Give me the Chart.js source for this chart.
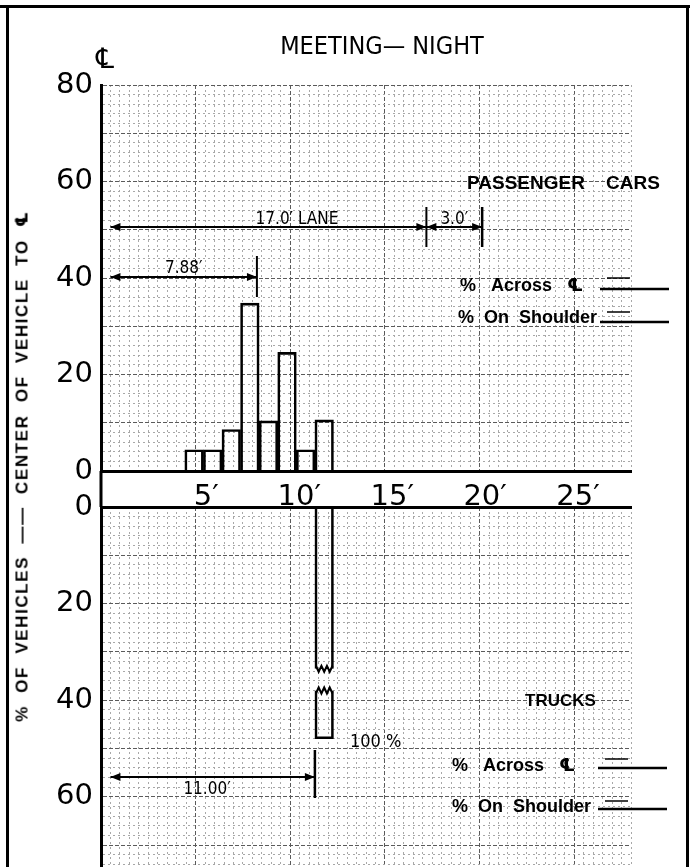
<!DOCTYPE html>
<html>
<head>
<meta charset="utf-8">
<script src="https://cdn.jsdelivr.net/npm/chart.js@4.4.1/dist/chart.umd.min.js"></script>
<style>
body { margin: 0; width: 690px; height: 867px; overflow: hidden; background: #fff; position: relative; }
.rule { position: absolute; background: #000; }
canvas { position: absolute; left: 0; }
#yTitle {
    position: absolute; left: 22px; top: 466px;
    transform: translate(-50%, -50%) rotate(-90deg);
    white-space: nowrap;
    font: bold 17px 'Liberation Sans', 'DejaVu Sans', sans-serif;
    letter-spacing: 1.6px; word-spacing: 6px;
}
</style>
</head>
<body>
<div class="rule" style="left:0;top:5px;width:690px;height:3px"></div>
<div class="rule" style="left:6px;top:5px;width:3px;height:862px"></div>
<div class="rule" style="left:686px;top:5px;width:3px;height:862px"></div>
<canvas id="trucksChart" width="690" height="384" style="top:490px"></canvas>
<canvas id="carsChart" width="690" height="515" style="top:0"></canvas>
<div id="yTitle">% OF VEHICLES —— CENTER OF VEHICLE TO ℄</div>
<script>
// distance of vehicle centre from the centre line, 1 ft bins (bin middles)
var carBinMid = [4.5, 5.5, 6.5, 7.5, 8.5, 9.5, 10.5, 11.5];
var carPct = [4.4, 4.4, 8.6, 34.8, 10.4, 24.6, 4.4, 10.6];
var carMean = 7.88;

var truckBinMid = [11.5];
var truckPct = [100];
var truckMean = 11.0;

var laneWidth = 17.0;
var shoulderWidth = 3.0;

var xTickLabels = [5, 10, 15, 20, 25];
var yTicksTop = [0, 20, 40, 60, 80];
var yTicksBottom = [0, 20, 40, 60];

// the 100% truck bar is drawn broken, like on the sheet
var truckBreak = [33.5, 38];
var truckCut = 48;

var tickFont = { family: "'DejaVu Sans'", size: 29 };
var noteFont = "17px 'DejaVu Sans Condensed', 'DejaVu Sans'";
var boldFont = "bold 18px 'Liberation Sans', 'DejaVu Sans'";

function isMajor(c, every) {
    return c.tick && Math.abs(c.tick.value % every) < 1e-6;
}
function xGridColor(c) { return isMajor(c, 5) ? "#5a5a5a" : "#a8a8a8"; }
function yGridColor(c) { return isMajor(c, 10) ? "#5a5a5a" : "#a8a8a8"; }
function xGridDash(c) { return isMajor(c, 5) ? [4, 2] : [2, 3]; }
function yGridDash(c) { return isMajor(c, 10) ? [4, 2] : [2, 3]; }

function noPad(s) {
    s.paddingTop = 0;
    s.paddingBottom = 0;
    s.paddingLeft = 0;
    s.paddingRight = 0;
}

function feetScale(position) {
    return {
        type: "linear", min: 0, max: 27.5, position: position,
        grid: { display: false },
        border: { color: "#000", width: 3 },
        afterBuildTicks: function (s) {
            s.ticks = [];
            for (var v = 0; v <= 27; v++) s.ticks.push({ value: v });
        },
    };
}
function gridScale(position) {
    return {
        type: "linear", min: 0, max: 27.5, position: position,
        ticks: { display: false, stepSize: 0.5, autoSkip: false },
        grid: { color: xGridColor, drawTicks: false },
        border: { display: false, dash: xGridDash },
        afterFit: function (s) { s.height = 0; noPad(s); },
    };
}
function pctScale(max, reverse, labels) {
    return {
        type: "linear", min: 0, max: max, reverse: reverse,
        grid: { color: yGridColor, drawTicks: false },
        border: { color: "#000", width: 3, dash: yGridDash },
        ticks: {
            stepSize: 2, autoSkip: false, padding: 8, color: "#000", font: tickFont,
            callback: function (v) { return labels.indexOf(v) >= 0 ? String(v) : ""; },
        },
        afterFit: function (s) { s.width = 101; noPad(s); },
    };
}

function arrowHead(ctx, x, y, dir) {
    ctx.beginPath();
    ctx.moveTo(x, y);
    ctx.lineTo(x - dir * 10, y - 4);
    ctx.lineTo(x - dir * 10, y + 4);
    ctx.closePath();
    ctx.fill();
}
function line(ctx, x1, y1, x2, y2, w) {
    ctx.setLineDash([]);
    ctx.lineWidth = w;
    ctx.beginPath();
    ctx.moveTo(x1, y1);
    ctx.lineTo(x2, y2);
    ctx.stroke();
}
function dimension(ctx, x1, x2, y) {
    line(ctx, x1, y, x2, y, 2);
    arrowHead(ctx, x1, y, -1);
    arrowHead(ctx, x2, y, 1);
}
function text(ctx, s, x, y, font, align) {
    ctx.font = font;
    ctx.textAlign = align || "left";
    ctx.textBaseline = "alphabetic";
    ctx.fillText(s, x, y);
}
function blank(ctx, x1, y1, y2) {
    // short and long fill-in lines after "% Across" / "% On Shoulder"
    line(ctx, x1 + 7, y1, x1 + 30, y1, 1.5);
    line(ctx, x1, y2, x1 + 69, y2, 2.5);
}
function zigzag(ctx, x1, x2, y, amp) {
    ctx.setLineDash([]);
    ctx.lineWidth = 2;
    ctx.beginPath();
    var n = 6;
    for (var i = 0; i <= n; i++) {
        var px = x1 + (x2 - x1) * i / n;
        var py = i % 2 === 0 ? y : y + amp;
        if (i === 0) ctx.moveTo(px, py); else ctx.lineTo(px, py);
    }
    ctx.stroke();
}

var carNotes = {
    id: "carNotes",
    afterDraw: function (chart) {
        var ctx = chart.ctx;
        var x = chart.scales.x;
        var area = chart.chartArea;
        var x0 = x.getPixelForValue(0);
        var lane = x.getPixelForValue(laneWidth);
        var sh = x.getPixelForValue(laneWidth + shoulderWidth);
        var mean = x.getPixelForValue(carMean);
        ctx.save();
        ctx.fillStyle = "#000";
        ctx.strokeStyle = "#000";

        text(ctx, "MEETING\u2014 NIGHT", 382, 54, "25px 'DejaVu Sans Condensed', 'DejaVu Sans'", "center");
        text(ctx, "\u2104", 105, 68, "28px 'DejaVu Sans'", "center");
        line(ctx, area.left, area.bottom, area.left, 507, 3);

        dimension(ctx, x0, lane, 227);
        dimension(ctx, lane, sh, 227);
        line(ctx, lane, 207, lane, 247, 2);
        line(ctx, sh, 207, sh, 247, 2.5);
        text(ctx, laneWidth.toFixed(1) + "\u2032 LANE", 297, 224, noteFont, "center");
        text(ctx, shoulderWidth.toFixed(1) + "\u2032", (lane + sh) / 2, 224, noteFont, "center");

        dimension(ctx, x0, mean, 277);
        line(ctx, mean, 256, mean, 297, 2);
        text(ctx, carMean.toFixed(2) + "\u2032", (x0 + mean) / 2, 273, noteFont, "center");

        text(ctx, "PASSENGER    CARS", 467, 189, "bold 19px 'Liberation Sans', 'DejaVu Sans'");
        text(ctx, "%   Across   \u2104", 460, 291, boldFont);
        blank(ctx, 600, 278, 289);
        text(ctx, "%  On  Shoulder", 458, 323, boldFont);
        blank(ctx, 600, 312, 322);
        ctx.restore();
    },
};

var truckNotes = {
    id: "truckNotes",
    afterDatasetsDraw: function (chart) {
        var ctx = chart.ctx;
        var a = chart.getDatasetMeta(0).data[0];
        var b = chart.getDatasetMeta(1).data[0];
        ctx.save();
        ctx.strokeStyle = "#000";
        zigzag(ctx, a.x - a.width / 2 + 1, a.x + a.width / 2 - 1, a.y - 3, 6);
        zigzag(ctx, b.x - b.width / 2 + 1, b.x + b.width / 2 - 1, b.base + 3, -6);
        ctx.restore();
    },
    afterDraw: function (chart) {
        var ctx = chart.ctx;
        var x = chart.scales.x;
        var oy = 490;
        var x0 = x.getPixelForValue(0);
        var mean = x.getPixelForValue(truckMean);
        ctx.save();
        ctx.fillStyle = "#000";
        ctx.strokeStyle = "#000";

        text(ctx, "TRUCKS", 525, 706 - oy, "bold 17px 'Liberation Sans', 'DejaVu Sans'");
        text(ctx, truckPct[0] + " %", 350, 747 - oy, "18px 'DejaVu Sans Condensed', 'DejaVu Sans'");
        text(ctx, "%   Across   \u2104", 452, 771 - oy, boldFont);
        blank(ctx, 598, 759 - oy, 768 - oy);
        text(ctx, "%  On  Shoulder", 452, 812 - oy, boldFont);
        blank(ctx, 598, 801 - oy, 809 - oy);

        dimension(ctx, x0, mean, 777 - oy);
        line(ctx, mean, 750 - oy, mean, 798 - oy, 2.5);
        text(ctx, truckMean.toFixed(2) + "\u2032", 207, 794 - oy, noteFont, "center");
        ctx.restore();
    },
};

var topX = feetScale("bottom");
topX.ticks = {
    autoSkip: false, maxRotation: 0, padding: 1, labelOffset: 3, color: "#000", font: tickFont,
    callback: function (v) { return xTickLabels.indexOf(v) >= 0 ? v + "\u2032" : ""; },
};
topX.afterFit = function (s) { s.height = 44; noPad(s); };

new Chart(document.getElementById("carsChart"), {
    type: "bar",
    data: {
        datasets: [
            {
                data: carBinMid.map(function (m, i) { return { x: m, y: carPct[i] }; }),
                backgroundColor: "rgba(0,0,0,0)",
                borderColor: "#000",
                borderWidth: 2,
                borderSkipped: "start",
                barPercentage: 1,
                categoryPercentage: 1,
            },
        ],
    },
    options: {
        responsive: false,
        animation: false,
        layout: { padding: { top: 85, right: 59, left: 0, bottom: 0 } },
        plugins: { legend: { display: false }, tooltip: { enabled: false } },
        scales: {
            x: topX,
            xg: gridScale("bottom"),
            y: pctScale(80, false, yTicksTop),
        },
    },
    plugins: [carNotes],
});

var botX = feetScale("top");
botX.ticks = { display: false, autoSkip: false };
botX.afterFit = function (s) { s.height = 0; noPad(s); };

new Chart(document.getElementById("trucksChart"), {
    type: "bar",
    data: {
        datasets: [
            {
                data: truckBinMid.map(function (m, i) {
                    return { x: m, y: [0, Math.min(truckPct[i], truckBreak[0])] };
                }),
                backgroundColor: "rgba(0,0,0,0)",
                borderColor: "#000",
                borderWidth: { left: 2, right: 2, top: 0, bottom: 0 },
                borderSkipped: false,
                grouped: false,
                barPercentage: 1,
                categoryPercentage: 1,
            },
            {
                data: truckBinMid.map(function (m, i) {
                    return { x: m, y: [truckBreak[1], Math.min(truckPct[i], truckCut)] };
                }),
                backgroundColor: "rgba(0,0,0,0)",
                borderColor: "#000",
                borderWidth: { left: 2, right: 2, top: 0, bottom: 2 },
                borderSkipped: false,
                grouped: false,
                barPercentage: 1,
                categoryPercentage: 1,
            },
        ],
    },
    options: {
        responsive: false,
        animation: false,
        layout: { padding: { top: 17, right: 59, left: 0, bottom: 0 } },
        plugins: { legend: { display: false }, tooltip: { enabled: false } },
        scales: {
            x: botX,
            xg: gridScale("top"),
            y: pctScale(76, true, yTicksBottom),
        },
    },
    plugins: [truckNotes],
});
</script>
</body>
</html>
